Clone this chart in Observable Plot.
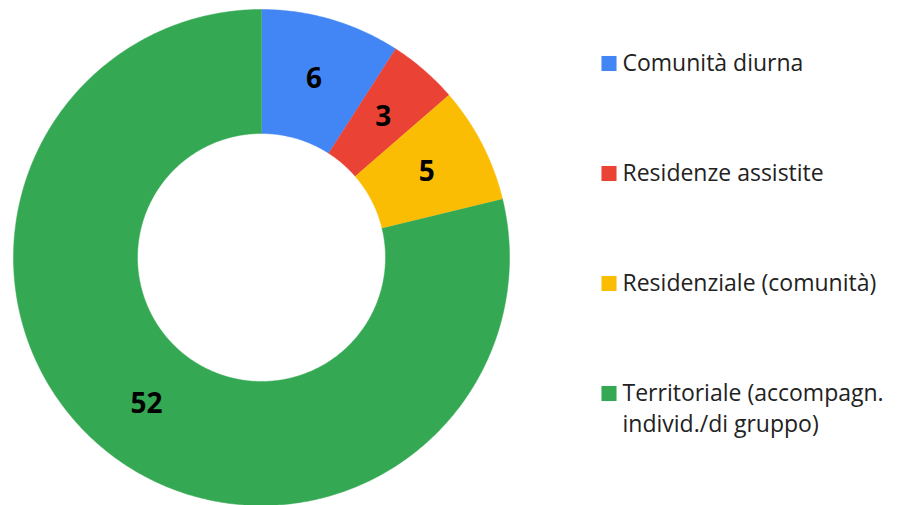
<!DOCTYPE html>
<html><head><meta charset="utf-8">
<script src="https://cdn.jsdelivr.net/npm/d3@7"></script>
<script src="https://cdn.jsdelivr.net/npm/@observablehq/plot@0.6"></script>
<style>
html,body{margin:0;padding:0;background:#fff;}
#chart{width:900px;height:505px;}
</style></head>
<body><div id="chart"></div>
<script>
const categories = ["Comunità diurna", "Residenze assistite", "Residenziale (comunità)", "Territoriale (accompagn.\nindivid./di gruppo)"];
const values = [6, 3, 5, 52];
const colors = ["#4285F4", "#EA4335", "#FBBC04", "#34A853"];

const inner = 0.5;
const pie = d3.pie().sort(null).value(d => d.value);
const data = categories.map((name, i) => ({name, value: values[i]}));
const arcs = pie(data);

// polygon points for each slice (unit coordinates, angle 0 at top, clockwise)
const pts = [];
arcs.forEach(a => {
  const n = Math.max(2, Math.ceil((a.endAngle - a.startAngle) / 0.01));
  for (let k = 0; k <= n; k++) {
    const t = a.startAngle + (a.endAngle - a.startAngle) * k / n;
    pts.push({name: a.data.name, x: Math.sin(t), y: Math.cos(t)});
  }
  for (let k = n; k >= 0; k--) {
    const t = a.startAngle + (a.endAngle - a.startAngle) * k / n;
    pts.push({name: a.data.name, x: inner * Math.sin(t), y: inner * Math.cos(t)});
  }
});
const labels = arcs.map(a => {
  const m = (a.startAngle + a.endAngle) / 2, r = (1 + inner) / 2;
  return {name: a.data.name, value: a.data.value, x: r * Math.sin(m), y: r * Math.cos(m)};
});

// legend rows in unit coordinates (px -> unit via the same scale)
const R = 248, cx = 261, cy = 257;
const legendRowsPx = [63, 173, 283, 393];
const legend = categories.map((name, i) => ({name, sx: (608.5 - cx) / R, tx: (622 - cx) / R, y: (cy - legendRowsPx[i]) / R}));

const plot = Plot.plot({
  width: 900, height: 505,
  margin: 0,
  x: {domain: [-1, 1], range: [cx - R, cx + R], axis: null},
  y: {domain: [-1, 1], range: [cy + R, cy - R], axis: null},
  color: {domain: categories, range: colors},
  style: {fontFamily: "'Open Sans', sans-serif", background: "#fff"},
  marks: [
    Plot.line(pts, {x: "x", y: "y", z: "name", fill: "name", stroke: "name", strokeWidth: 0.5, curve: "linear"}),
    Plot.text(labels, {x: "x", y: "y", text: d => String(d.value), fill: "#000", fontSize: 28, fontWeight: "bold"}),
    Plot.dot(legend, {x: "sx", y: "y", fill: "name", symbol: "square", r: 8.5, stroke: null}),
    Plot.text(legend, {x: "tx", y: "y", text: "name", textAnchor: "start", lineAnchor: "top", dy: -15, lineHeight: 1.35, fontSize: 23, fill: "#222"})
  ]
});
document.getElementById("chart").appendChild(plot);
</script>
</body></html>
